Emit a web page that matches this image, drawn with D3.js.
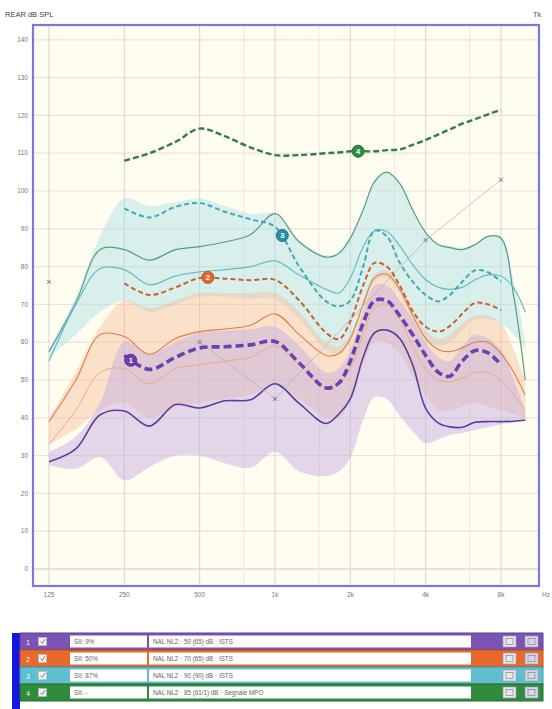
<!DOCTYPE html>
<html><head><meta charset="utf-8">
<script src="https://cdn.jsdelivr.net/npm/d3@7"></script>
<style>
html,body{margin:0;padding:0;background:#ffffff;}
svg{display:block;font-family:"Liberation Sans","DejaVu Sans",sans-serif;}
</style></head><body>
<svg id="chart" width="552" height="709"></svg>
<script>
// Frequency grid (Hz) shared by all curves
const freqs = [125,160,200,250,315,400,500,630,800,1000,1250,1600,1800,2000,2250,2500,2800,3150,3550,4000,4500,5000,5600,6300,7100,8000,9000,10000];

// Curve 1 — 50 dB input (purple)
const s1Ltass = [null,null,null,56.5,52.8,56,58.5,58.8,59.3,60.2,54.5,47.9,49.2,55,65,71,71,67,62,56.5,52,51,55,57.8,57.2,54,null,null];
const s1Solid = [28.4,31.8,40.8,41.8,37.8,43.5,42.6,44.5,44.8,49,43.8,38.5,41,45,56,62.5,63.2,61,54,42.5,38.6,37.6,37.5,38.8,39,39,39.1,39.4];
const s1Low   = [27.5,26.5,29.6,23.5,27,30,30,28,26.8,31,25.8,24.6,25.8,29.5,39.5,45.5,45,40.5,36.5,33.3,34.3,35.5,36,36.8,37.5,38.3,38.8,39.4];
const s1High  = [31,35,44,60,57,60,62.5,63,63.5,64,59,52,53,58,68,75,75,71,66,60,56,55,59,62,61,58,50,42];

// Curve 2 — 70 dB input (orange)
const s2Ltass = [null,null,null,75.6,72.5,74.5,77,76.8,76.4,76.5,71,62.5,60.8,65.5,75,81,80,75,68.2,64.1,62.8,64.3,67.5,70.4,70,68.5,null,null];
const s2SolidA = [39,50,62,61.5,56.8,61,62.8,63.5,64.5,67.5,62,56.5,57,61,70,77,78,74,67,61,58,57.5,58.5,60,60,57,52,46];
const s2SolidB = [33,42,52,53,49,53,54,55,56,59,54,48,49,53,62,69,70,66,59,53,50,49.5,50.5,52,52,50,46,42];
const s2Low   = [33,37,42,44,40,43,44,45,46,49,45,40,40,45,54,60,60,57,51,46,42,42,43,44,43,42,41,40];
const s2High  = [40,52,64,71,69,71,73,73,73,73,68,60,59,62,71,78,79,75,69,63,61,62,65,67,67,65,58,50];

// Curve 3 — 90 dB input (teal)
const s3Ltass = [null,null,null,95.4,93,95.8,96.8,94.5,92.5,90.5,80,70.8,69.5,71,80,89.5,88,81,76,72.5,70.8,72.5,76,79,78.5,76,null,null];
const s3SolidA = [57.5,70.5,84.5,84.5,81.7,84.5,85.3,86.5,88.5,94,86.5,82.5,83.5,87.5,95,102.5,105,102,95,89,85.8,85,84.5,85.8,88,87.5,72,50];
const s3SolidB = [55,70,79.5,79.2,75.2,77.5,78.6,79.2,80,81.5,77.8,74,73,77,85.2,89.5,89.3,85.5,80.5,76.5,74.5,74,74.5,76.5,77.8,77.5,74.3,68];
const s3Low   = [56,62,68,71,68,70,72,72,71.5,71.5,66,58,57,60,69,76,77,73,67,61,59,60,63,66,66,65,62,58];
const s3High  = [58,72,88,98,96,97,98,96,94,94,87,83,84,88,95,103,105,102,95,89,86,85.5,85,86,88,88,76,60];

// Curve 4 — MPO signal (green)
const s4Mpo = [null,null,null,108,110,113,116.5,114.5,111.5,109.5,109.5,110,110.2,110.5,110.5,110.5,110.8,111,112.2,113.5,115,116.3,117.8,119,120.3,121.5,null,null];

// Threshold markers
const thrFreqs = [125,500,1000,4000,8000];
const thrVals  = [76,60,45,87,103];

// Numbered curve markers: frequency where each badge sits
const badgeFreqs = [265,540,1070,2150];
const badgeLabels = ["1","2","3","4"];

// Axis ticks
const yTicks = [0,10,20,30,40,50,60,70,80,90,100,110,120,130,140];
const xTickFreqs = [125,250,500,1000,2000,4000,8000];
const xTickLabels = ["125","250","500","1k","2k","4k","8k"];
const minorFreqs = [750,1500,3000,6000];

// Legend rows
const legendSii = ["SII: 9%","SII: 50%","SII: 87%","SII: -"];
const legendDesc = ["NAL NL2 · 50 (65) dB · ISTS","NAL NL2 · 70 (65) dB · ISTS","NAL NL2 · 90 (90) dB · ISTS","NAL NL2 · 85 (61/1) dB · Segnale MPO"];
const legendColors = ["#7b54b3","#e8692d","#5ec0cf","#2f8c3b"];

const svg = d3.select("#chart");
const frame = {x0:33, x1:539, y0:25, y1:586};

const x = d3.scaleLog().base(2).domain([125,8000]).range([49,501]);
const y = d3.scaleLinear().domain([0,140]).range([569,39.8]);

// page titles
svg.append("text").attr("x",5).attr("y",17).attr("font-size",7.5).attr("fill","#444").text("REAR dB SPL");
svg.append("text").attr("x",533).attr("y",17).attr("font-size",7.5).attr("fill","#555").text("Tk");

// plot background
svg.append("rect").attr("x",frame.x0).attr("y",frame.y0).attr("width",frame.x1-frame.x0).attr("height",frame.y1-frame.y0).attr("fill","#fffcf0");

svg.append("clipPath").attr("id","clip").append("rect")
  .attr("x",frame.x0+1).attr("y",frame.y0+1).attr("width",frame.x1-frame.x0-2).attr("height",frame.y1-frame.y0-2);

const grid = svg.append("g");
grid.selectAll("line.h").data(yTicks).join("line")
  .attr("x1",frame.x0).attr("x2",frame.x1).attr("y1",d=>y(d)).attr("y2",d=>y(d))
  .attr("stroke",d=>d===0?"#c9c2dc":"#efe2d6").attr("stroke-width",1.2);
grid.selectAll("line.m").data(minorFreqs).join("line")
  .attr("x1",d=>x(d)).attr("x2",d=>x(d)).attr("y1",frame.y0).attr("y2",frame.y1)
  .attr("stroke","#ece6ea").attr("stroke-width",1);
grid.selectAll("line.v").data(xTickFreqs).join("line")
  .attr("x1",d=>x(d)).attr("x2",d=>x(d)).attr("y1",frame.y0).attr("y2",frame.y1)
  .attr("stroke","#d9d0d8").attr("stroke-width",1);

const plot = svg.append("g").attr("clip-path","url(#clip)");
const curve = d3.curveCatmullRom.alpha(0.5);

function band(low, high, fill, op){
  const pts = freqs.map((f,i)=>({f, lo:low[i], hi:high[i]}));
  plot.append("path").datum(pts)
    .attr("d", d3.area().x(d=>x(d.f)).y0(d=>y(d.lo)).y1(d=>y(d.hi)).curve(curve))
    .attr("fill",fill).attr("fill-opacity",op);
}
function line(vals, color, width, dash, op){
  const pts = freqs.map((f,i)=>({f, v:vals[i]}));
  return plot.append("path").datum(pts)
    .attr("d", d3.line().defined(d=>d.v!=null).x(d=>x(d.f)).y(d=>y(d.v)).curve(curve))
    .attr("fill","none").attr("stroke",color).attr("stroke-width",width)
    .attr("stroke-dasharray",dash||null).attr("stroke-opacity",op==null?1:op)
    .attr("stroke-linecap","butt");
}

// bands
band(s3Low, s3High, "#a9e0e4", 0.45);
band(s2Low, s2High, "#f6b996", 0.42);
band(s1Low, s1High, "#c6b0df", 0.5);

// thin solid curves
line(s3SolidA, "#529e86", 1.2);
line(s3SolidB, "#66bcc6", 1.2);
line(s2SolidA, "#e07c48", 1.1);
line(s2SolidB, "#eeaa84", 1.0);
line(s1Solid, "#5a3e9e", 1.6);

// threshold line with x markers
const thrPts = thrFreqs.map((f,i)=>({f, v:thrVals[i]}));
plot.append("path").datum(thrPts.slice(1))
  .attr("d", d3.line().x(d=>x(d.f)).y(d=>y(d.v)))
  .attr("fill","none").attr("stroke","#b3aeb2").attr("stroke-width",0.7);
plot.selectAll("g.thr").data(thrPts).join("g")
  .attr("transform",d=>`translate(${x(d.f)},${y(d.v)})`)
  .each(function(){
    const g=d3.select(this);
    g.append("line").attr("x1",-2).attr("y1",-2).attr("x2",2).attr("y2",2).attr("stroke","#666").attr("stroke-width",0.9);
    g.append("line").attr("x1",-2).attr("y1",2).attr("x2",2).attr("y2",-2).attr("stroke","#666").attr("stroke-width",0.9);
  });

// dashed measured curves
const p3 = line(s3Ltass, "#3fa9bb", 2.0, "5,3");
const p2 = line(s2Ltass, "#c7612b", 2.0, "5,3");
const p1 = line(s1Ltass, "#6b41b0", 3.6, "8,4");
const p4 = line(s4Mpo, "#2e7f45", 2.4, "6,3");

// numbered badges placed on their curves
const badgePaths = [p1,p2,p3,p4];
const badgeFill = ["#6a3fb2","#e5652a","#2a8ea6","#2e8b44"];
badgeFreqs.forEach((f,i)=>{
  const node = badgePaths[i].node();
  const tx = x(f), L = node.getTotalLength();
  let best = null, bd = 1e9;
  for(let l=0; l<=L; l+=0.5){
    const p = node.getPointAtLength(l);
    const dd = Math.abs(p.x-tx);
    if(dd<bd){bd=dd;best=p;}
  }
  const g = svg.append("g").attr("transform",`translate(${best.x},${best.y})`);
  g.append("circle").attr("r",6).attr("fill",badgeFill[i]).attr("stroke",d3.color(badgeFill[i]).darker(0.6)).attr("stroke-width",1);
  g.append("text").attr("text-anchor","middle").attr("dy","0.35em").attr("font-size",7.5).attr("font-weight","bold").attr("fill","#fff").text(badgeLabels[i]);
});

// frame
svg.append("rect").attr("x",frame.x0).attr("y",frame.y0).attr("width",frame.x1-frame.x0).attr("height",frame.y1-frame.y0)
  .attr("fill","none").attr("stroke","#7a78dc").attr("stroke-width",2.2);

// axes labels
svg.selectAll("text.yt").data(yTicks).join("text")
  .attr("x",28).attr("y",d=>y(d)).attr("dy","0.35em").attr("text-anchor","end")
  .attr("font-size",6.5).attr("fill","#777").text(d=>d);
svg.selectAll("text.xt").data(xTickFreqs).join("text")
  .attr("x",d=>x(d)).attr("y",597).attr("text-anchor","middle")
  .attr("font-size",6.5).attr("fill","#777").text((d,i)=>xTickLabels[i]);
svg.append("text").attr("x",546).attr("y",597).attr("text-anchor","middle").attr("font-size",6.5).attr("fill","#777").text("Hz");

// legend table
const lg = svg.append("g");
lg.append("rect").attr("x",12).attr("y",633).attr("width",8).attr("height",76).attr("fill","#1515e0");
legendColors.forEach((c,i)=>{
  const ry = 633 + i*17;
  const r = lg.append("g").attr("transform",`translate(0,${ry})`);
  r.append("rect").attr("x",20).attr("y",0).attr("width",523).attr("height",17).attr("fill",c)
    .attr("stroke",d3.color(c).darker(0.7)).attr("stroke-width",1);
  r.append("text").attr("x",28).attr("y",11.5).attr("font-size",6.5).attr("fill","#fff").attr("text-anchor","middle").text(i+1);
  r.append("rect").attr("x",38.5).attr("y",4.5).attr("width",8).attr("height",8).attr("fill","#f4f4f4").attr("stroke","#bbb").attr("stroke-width",0.6);
  r.append("path").attr("d","M40.5,8.5 L42.3,10.5 L45,6").attr("fill","none").attr("stroke","#777").attr("stroke-width",0.9);
  r.append("rect").attr("x",70).attr("y",2.5).attr("width",77).attr("height",12).attr("fill","#fefefe");
  r.append("text").attr("x",74).attr("y",11).attr("font-size",6.3).attr("fill","#666").text(legendSii[i]);
  r.append("rect").attr("x",149).attr("y",2.5).attr("width",322).attr("height",12).attr("fill","#fefefe");
  r.append("text").attr("x",153).attr("y",11).attr("font-size",6.3).attr("fill","#666").text(legendDesc[i]);
  [503,525].forEach((ix,k)=>{
    r.append("rect").attr("x",ix).attr("y",3).attr("width",13).attr("height",11).attr("fill",k?"#d6d8ea":"#e9e6ef").attr("stroke","#9a98a8").attr("stroke-width",0.6);
    r.append("rect").attr("x",ix+3).attr("y",5.5).attr("width",7).attr("height",6).attr("fill","none").attr("stroke","#777").attr("stroke-width",0.6);
  });
});
</script>
</body></html>
